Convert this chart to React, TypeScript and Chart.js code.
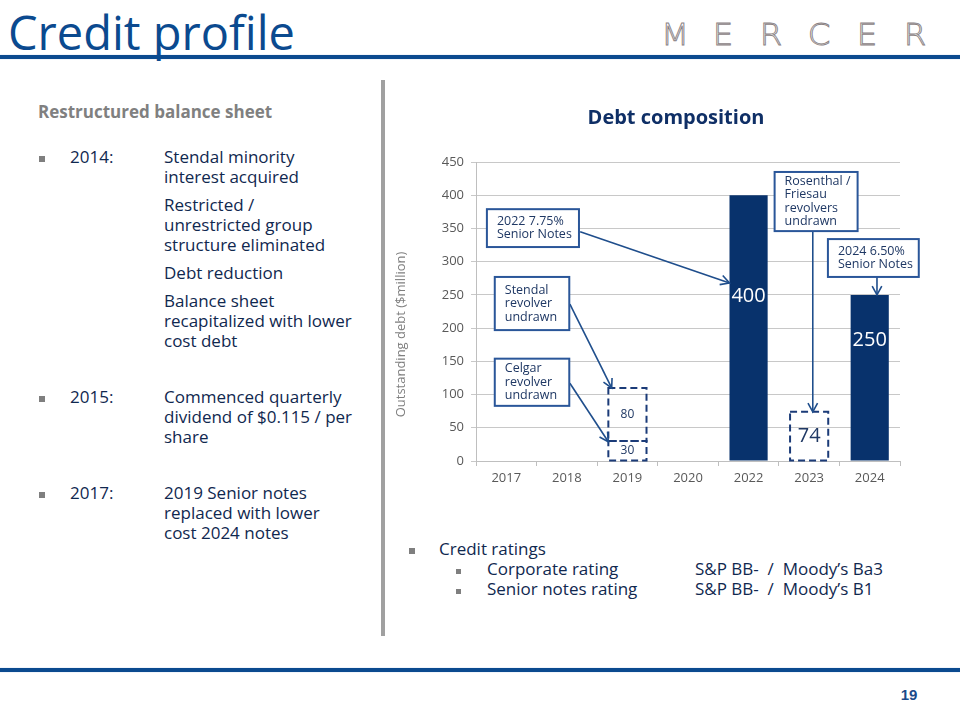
import React, { useEffect, useRef } from "react";
import { Chart, registerables } from "chart.js";

Chart.register(...registerables);

// ---------- data ----------
const categories = ["2017", "2018", "2019", "2020", "2022", "2023", "2024"];
const seniorNotes = [null, null, null, null, 400, null, 250];
const undrawnLower = [null, null, 30, null, null, 74, null];
const undrawnUpper = [null, null, 80, null, null, null, null];
const yMin = 0;
const yMax = 450;
const yStep = 50;

const chartTitle = "Debt composition";
const yAxisTitle = "Outstanding debt ($million)";

// where the solid bar labels sit (value units)
const seniorLabelAt = [null, null, null, null, 248, null, 182];
// font size of the undrawn labels per category
const undrawnLabelSize = [12, 12, 12, 12, 12, 20, 12];

// callouts: box [xFrom, xTo, yTop, yBottom] in (category index, value) units
const callouts = [
  { lines: ["2022 7.75%", "Senior Notes"], box: [-0.32, 1.2, 379, 322], from: [1.22, 345], to: [3.685, 268] },
  { lines: ["Stendal", "revolver", "undrawn"], box: [-0.19, 1.04, 277, 197], from: [1.05, 236], to: [1.74, 110] },
  { lines: ["Celgar", "revolver", "undrawn"], box: [-0.19, 1.04, 154, 83], from: [1.05, 117], to: [1.685, 29] },
  { lines: ["Rosenthal /", "Friesau", "revolvers", "undrawn"], box: [4.43, 5.8, 435, 346], from: [5.06, 346], to: [5.06, 74] },
  { lines: ["2024 6.50%", "Senior Notes"], box: [5.31, 6.81, 334, 277], from: [6.12, 277], to: [6.12, 250] },
];

const NAVY = "#08326c";
const DASH = "#1b3b78";
const CALLOUT_BORDER = "#2a5699";
const CALLOUT_TEXT = "#1f3864";
const ARROW = "#1f4e8c";
const FONT = '"Open Sans", sans-serif';

const overlayPlugin = {
  id: "overlay",
  afterDatasetsDraw(chart: any) {
    const ctx = chart.ctx as CanvasRenderingContext2D;
    const xs = chart.scales.x;
    const ys = chart.scales.y;

    // dashed undrawn boxes + labels
    [1, 2].forEach((di) => {
      const meta = chart.getDatasetMeta(di);
      const data = chart.data.datasets[di].data;
      meta.data.forEach((el: any, i: number) => {
        const v = data[i];
        if (v == null) return;
        const { x, y, base, width } = el.getProps(["x", "y", "base", "width"], true);
        ctx.save();
        ctx.setLineDash([7, 4]);
        ctx.lineWidth = 2;
        ctx.strokeStyle = DASH;
        ctx.strokeRect(x - width / 2, y, width, base - y);
        ctx.restore();
        ctx.save();
        ctx.fillStyle = CALLOUT_TEXT;
        ctx.font = `${undrawnLabelSize[i]}px ${FONT}`;
        ctx.textAlign = "center";
        ctx.textBaseline = "middle";
        ctx.fillText(String(v), x, (y + base) / 2);
        ctx.restore();
      });
    });

    // solid bar labels
    const meta0 = chart.getDatasetMeta(0);
    meta0.data.forEach((el: any, i: number) => {
      const v = seniorNotes[i];
      const at = seniorLabelAt[i];
      if (v == null || at == null) return;
      ctx.save();
      ctx.fillStyle = "#ffffff";
      ctx.font = `20px ${FONT}`;
      ctx.textAlign = "center";
      ctx.textBaseline = "middle";
      ctx.fillText(String(v), el.x, ys.getPixelForValue(at));
      ctx.restore();
    });

    // callouts
    callouts.forEach((c) => {
      const fx = xs.getPixelForValue(c.from[0]);
      const fy = ys.getPixelForValue(c.from[1]);
      const tx = xs.getPixelForValue(c.to[0]);
      const ty = ys.getPixelForValue(c.to[1]);
      ctx.save();
      ctx.strokeStyle = ARROW;
      ctx.lineWidth = 1.6;
      ctx.beginPath();
      ctx.moveTo(fx, fy);
      ctx.lineTo(tx, ty);
      ctx.stroke();
      const ang = Math.atan2(ty - fy, tx - fx);
      const L = 10;
      const a = 0.5;
      ctx.beginPath();
      ctx.moveTo(tx - L * Math.cos(ang - a), ty - L * Math.sin(ang - a));
      ctx.lineTo(tx, ty);
      ctx.lineTo(tx - L * Math.cos(ang + a), ty - L * Math.sin(ang + a));
      ctx.stroke();
      ctx.restore();

      const l = xs.getPixelForValue(c.box[0]);
      const r = xs.getPixelForValue(c.box[1]);
      const t = ys.getPixelForValue(c.box[2]);
      const b = ys.getPixelForValue(c.box[3]);
      ctx.save();
      ctx.fillStyle = "#ffffff";
      ctx.fillRect(l, t, r - l, b - t);
      ctx.strokeStyle = CALLOUT_BORDER;
      ctx.lineWidth = 2;
      ctx.strokeRect(l, t, r - l, b - t);
      ctx.fillStyle = CALLOUT_TEXT;
      ctx.font = `12.5px ${FONT}`;
      ctx.textAlign = "left";
      ctx.textBaseline = "middle";
      const lh = 13.5;
      const cy = (t + b) / 2;
      c.lines.forEach((line, k) => {
        ctx.fillText(line, l + 10, cy + (k - (c.lines.length - 1) / 2) * lh);
      });
      ctx.restore();
    });
  },
  afterDraw(chart: any) {
    const ctx = chart.ctx as CanvasRenderingContext2D;
    const area = chart.chartArea;
    // y axis title
    ctx.save();
    ctx.translate(area.left - 75, (area.top + area.bottom) / 2 + 23);
    ctx.rotate(-Math.PI / 2);
    ctx.fillStyle = "#7f7f7f";
    ctx.font = `13px ${FONT}`;
    ctx.textAlign = "center";
    ctx.textBaseline = "middle";
    ctx.fillText(yAxisTitle, 0, 0);
    ctx.restore();
    // chart title, centred on the whole canvas
    ctx.save();
    ctx.fillStyle = "#0f2f66";
    ctx.font = `bold 20px ${FONT}`;
    ctx.textAlign = "center";
    ctx.textBaseline = "middle";
    ctx.fillText(chartTitle, chart.width / 2, 20);
    ctx.restore();
  },
};

const textNavy = "#10284f";

function Line(props: { left: number; cy: number; children: any; style?: any }) {
  return (
    <div
      style={{
        position: "absolute",
        left: props.left,
        top: props.cy - 10,
        lineHeight: "20px",
        fontSize: 17,
        color: textNavy,
        whiteSpace: "nowrap",
        ...(props.style || {}),
      }}
    >
      {props.children}
    </div>
  );
}

function Bullet(props: { left: number; cy: number; size?: number }) {
  const s = props.size || 6;
  return (
    <div
      style={{
        position: "absolute",
        left: props.left,
        top: props.cy - s / 2,
        width: s,
        height: s,
        background: "#7f7f7f",
      }}
    />
  );
}

export default function App() {
  const ref = useRef<HTMLCanvasElement>(null);

  useEffect(() => {
    const chart = new Chart(ref.current as HTMLCanvasElement, {
      type: "bar",
      data: {
        labels: categories,
        datasets: [
          { label: "Senior notes", data: seniorNotes as any, backgroundColor: NAVY, stack: "s" },
          { label: "Undrawn revolver", data: undrawnLower as any, backgroundColor: "rgba(255,255,255,0)", stack: "s" },
          { label: "Undrawn revolver (2)", data: undrawnUpper as any, backgroundColor: "rgba(255,255,255,0)", stack: "s" },
        ],
      },
      options: {
        responsive: false,
        animation: false,
        devicePixelRatio: 1,
        datasets: { bar: { barPercentage: 0.63, categoryPercentage: 1 } },
        layout: { padding: { left: 0, right: 60, top: 64, bottom: 0 } },
        plugins: {
          legend: { display: false },
          tooltip: { enabled: false },
          title: { display: false },
        },
        scales: {
          x: {
            stacked: true,
            grid: { display: true, drawOnChartArea: false, drawTicks: true, tickLength: 5, color: "#bfbfbf" },
            border: { color: "#bfbfbf" },
            ticks: { color: "#595959", font: { family: FONT, size: 13 }, padding: 4 },
            afterFit: (s: any) => {
              s.height = 29;
            },
          },
          y: {
            stacked: true,
            min: yMin,
            max: yMax,
            ticks: { stepSize: yStep, color: "#595959", font: { family: FONT, size: 13 }, padding: 7 },
            grid: { color: "#c8c8c8", tickLength: 5 },
            border: { color: "#bfbfbf" },
            afterFit: (s: any) => {
              s.width = 84;
            },
          },
        },
      },
      plugins: [overlayPlugin],
    });
    return () => chart.destroy();
  }, []);

  return (
    <div
      style={{
        position: "absolute",
        left: 0,
        top: 0,
        width: 960,
        height: 720,
        background: "#ffffff",
        overflow: "hidden",
        fontFamily: FONT,
      }}
    >
      {/* header */}
      <div
        style={{
          position: "absolute",
          left: 8,
          top: 9,
          fontSize: 47,
          lineHeight: "47px",
          color: "#0b4a8f",
          whiteSpace: "nowrap",
          zIndex: 2,
        }}
      >
        Credit profile
      </div>
      <div style={{ position: "absolute", left: 0, top: 55, width: 960, height: 4, background: "#0b4a8f", boxShadow: "0 0 1px #6f9bd0" }} />
      {"MERCER".split("").map((ch, i) => (
        <div
          key={i}
          style={{
            position: "absolute",
            left: 651 + i * 48,
            top: 18,
            width: 48,
            textAlign: "center",
            fontFamily: '"DejaVu Sans", sans-serif',
            fontWeight: 200,
            fontSize: 31,
            lineHeight: "32px",
            color: "#ffffff",
            WebkitTextStroke: "0.9px #8a8284",
            transform: "scaleX(1.05)",
          }}
        >
          {ch}
        </div>
      ))}

      {/* divider */}
      <div style={{ position: "absolute", left: 381, top: 80, width: 4, height: 556, background: "#a0a0a0" }} />

      {/* left column */}
      <Line left={38} cy={112} style={{ fontWeight: "bold", color: "#808080" }}>
        Restructured balance sheet
      </Line>

      <Bullet left={39} cy={159} />
      <Line left={70} cy={157}>2014:</Line>
      <Line left={164} cy={157}>Stendal minority</Line>
      <Line left={164} cy={177}>interest acquired</Line>
      <Line left={164} cy={205}>Restricted /</Line>
      <Line left={164} cy={225}>unrestricted group</Line>
      <Line left={164} cy={245}>structure eliminated</Line>
      <Line left={164} cy={273}>Debt reduction</Line>
      <Line left={164} cy={301}>Balance sheet</Line>
      <Line left={164} cy={321}>recapitalized with lower</Line>
      <Line left={164} cy={341}>cost debt</Line>

      <Bullet left={39} cy={399} />
      <Line left={70} cy={397}>2015:</Line>
      <Line left={164} cy={397}>Commenced quarterly</Line>
      <Line left={164} cy={417}>dividend of $0.115 / per</Line>
      <Line left={164} cy={437}>share</Line>

      <Bullet left={39} cy={495} />
      <Line left={70} cy={493}>2017:</Line>
      <Line left={164} cy={493}>2019 Senior notes</Line>
      <Line left={164} cy={513}>replaced with lower</Line>
      <Line left={164} cy={533}>cost 2024 notes</Line>

      {/* chart */}
      <div style={{ position: "absolute", left: 392, top: 98, width: 568, height: 392 }}>
        <canvas ref={ref} width={568} height={392} style={{ width: 568, height: 392, display: "block" }} />
      </div>

      {/* credit ratings */}
      <Bullet left={409} cy={551} />
      <Line left={439} cy={549}>Credit ratings</Line>
      <Bullet left={456} cy={571} size={5} />
      <Line left={487} cy={569}>Corporate rating</Line>
      <Line left={695} cy={569}>S&amp;P BB-&nbsp; /&nbsp; Moody’s Ba3</Line>
      <Bullet left={456} cy={591} size={5} />
      <Line left={487} cy={589}>Senior notes rating</Line>
      <Line left={695} cy={589}>S&amp;P BB-&nbsp; /&nbsp; Moody’s B1</Line>

      {/* footer */}
      <div style={{ position: "absolute", left: 0, top: 668, width: 960, height: 4, background: "#0b4a8f", boxShadow: "0 0 1px #6f9bd0" }} />
      <div
        style={{
          position: "absolute",
          left: 896,
          top: 686,
          width: 26,
          textAlign: "center",
          fontFamily: '"Liberation Sans Narrow", "Liberation Sans", sans-serif',
          fontWeight: "bold",
          fontSize: 15,
          lineHeight: "18px",
          color: "#1a4a8a",
        }}
      >
        19
      </div>
    </div>
  );
}
